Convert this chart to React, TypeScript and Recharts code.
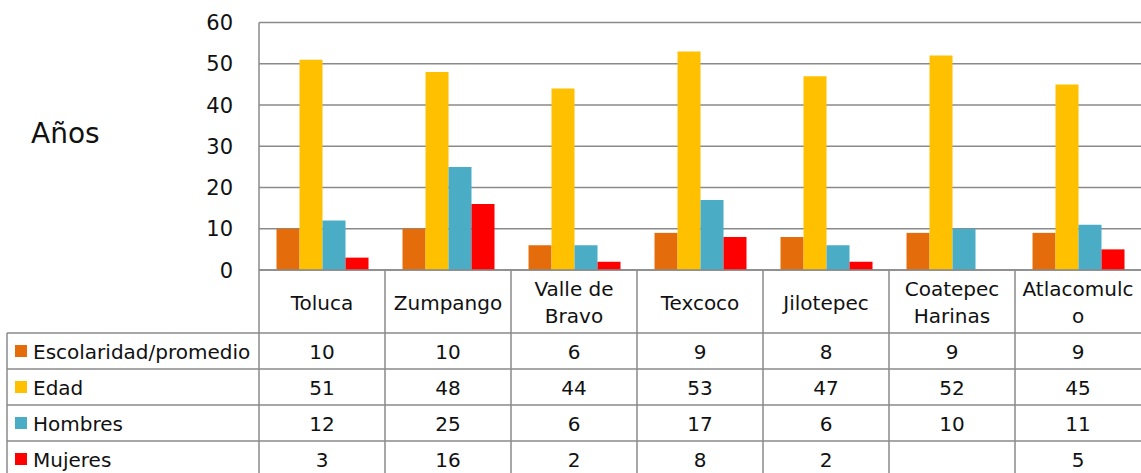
import React from 'react';
import { BarChart, Bar, XAxis, YAxis, CartesianGrid } from 'recharts';

const categories = ['Toluca', 'Zumpango', 'Valle de\nBravo', 'Texcoco', 'Jilotepec', 'Coatepec\nHarinas', 'Atlacomulc\no'];
const escolaridad = [10, 10, 6, 9, 8, 9, 9];
const edad = [51, 48, 44, 53, 47, 52, 45];
const hombres = [12, 25, 6, 17, 6, 10, 11];
const mujeres: (number | null)[] = [3, 16, 2, 8, 2, null, 5];
const yTicks = [0, 10, 20, 30, 40, 50, 60];

const seriesKeys = ['escolaridad', 'edad', 'hombres', 'mujeres'];
const seriesNames = ['Escolaridad/promedio', 'Edad', 'Hombres', 'Mujeres'];
const seriesColors = ['#E46C0A', '#FFC000', '#4BACC6', '#FF0000'];
const seriesValues = [escolaridad, edad, hombres, mujeres];

const data = categories.map((c, i) => ({
  name: c,
  escolaridad: escolaridad[i],
  edad: edad[i],
  hombres: hombres[i],
  mujeres: mujeres[i],
}));

const W = 1141;
const H = 473;
const PLOT_LEFT = 259;
const X_AXIS_H = 203;
const BOTTOM = H - X_AXIS_H;
const rowLines = [333, 369, 405, 441];
const rowCenters = [351, 387, 423, 459];
const FONT = "'DejaVu Sans', sans-serif";
const GRID = '#8a8a8a';
const TEXT = '#111';

function YTick(props: any) {
  const { x, y, payload } = props;
  return (
    <text x={x - 18} y={y + 7.5} textAnchor="end" fontSize={21} fontFamily={FONT} fill={TEXT}>
      {payload.value}
    </text>
  );
}

function TableTick(props: any) {
  const { x, index, payload } = props;
  const band = (W - PLOT_LEFT) / categories.length;
  const left = x - band / 2;
  const lines = String(payload.value).split('\n');
  const labelCenter = 302;
  const lineH = 27.6;
  const els: React.ReactNode[] = [];
  els.push(<line key="vl" x1={left} x2={left} y1={BOTTOM} y2={H} stroke={GRID} strokeWidth={1.5} />);
  lines.forEach((l, li) => {
    const cy = labelCenter + (li - (lines.length - 1) / 2) * lineH;
    els.push(
      <text key={'l' + li} x={x} y={cy + 7.5} textAnchor="middle" fontSize={20} fontFamily={FONT} fill={TEXT}>
        {l}
      </text>
    );
  });
  seriesValues.forEach((vals, si) => {
    const v = vals[index];
    if (v !== null && v !== undefined) {
      els.push(
        <text key={'v' + si} x={x} y={rowCenters[si] + 7.5} textAnchor="middle" fontSize={20} fontFamily={FONT} fill={TEXT}>
          {v}
        </text>
      );
    }
  });
  if (index === 0) {
    rowLines.forEach((ry, ri) => {
      els.push(<line key={'hl' + ri} x1={7} x2={W} y1={ry} y2={ry} stroke={GRID} strokeWidth={1.5} />);
    });
    els.push(<line key="lb" x1={7} x2={7} y1={rowLines[0]} y2={H} stroke={GRID} strokeWidth={1.5} />);
    seriesNames.forEach((n, si) => {
      els.push(
        <rect key={'sq' + si} x={15} y={rowCenters[si] - 6} width={12} height={12} fill={seriesColors[si]} />
      );
      els.push(
        <text key={'sn' + si} x={33} y={rowCenters[si] + 7.5} fontSize={20} fontFamily={FONT} fill={TEXT}>
          {n}
        </text>
      );
    });
    els.push(
      <text key="ylab" x={31} y={143} fontSize={28} fontFamily={FONT} fill={TEXT}>
        Años
      </text>
    );
  }
  return <g>{els}</g>;
}

export default function App() {
  return (
    <div style={{ position: 'absolute', left: 0, top: 0, width: W, height: H, background: '#fff' }}>
      <BarChart
        width={W}
        height={H}
        data={data}
        margin={{ top: 22.5, right: 0, bottom: 0, left: 0 }}
        barCategoryGap="13.9%"
        barGap={0}
      >
        <CartesianGrid vertical={false} stroke={GRID} strokeWidth={1.5} />
        <YAxis
          width={PLOT_LEFT}
          domain={[0, 60]}
          ticks={yTicks}
          interval={0}
          tickLine={false}
          axisLine={{ stroke: GRID, strokeWidth: 1.5 }}
          tick={<YTick />}
        />
        <XAxis
          dataKey="name"
          height={X_AXIS_H}
          interval={0}
          tickLine={false}
          axisLine={{ stroke: GRID, strokeWidth: 1.5 }}
          tick={<TableTick />}
        />
        {seriesKeys.map((k, i) => (
          <Bar key={k} dataKey={k} name={seriesNames[i]} fill={seriesColors[i]} isAnimationActive={false} />
        ))}
      </BarChart>
    </div>
  );
}
